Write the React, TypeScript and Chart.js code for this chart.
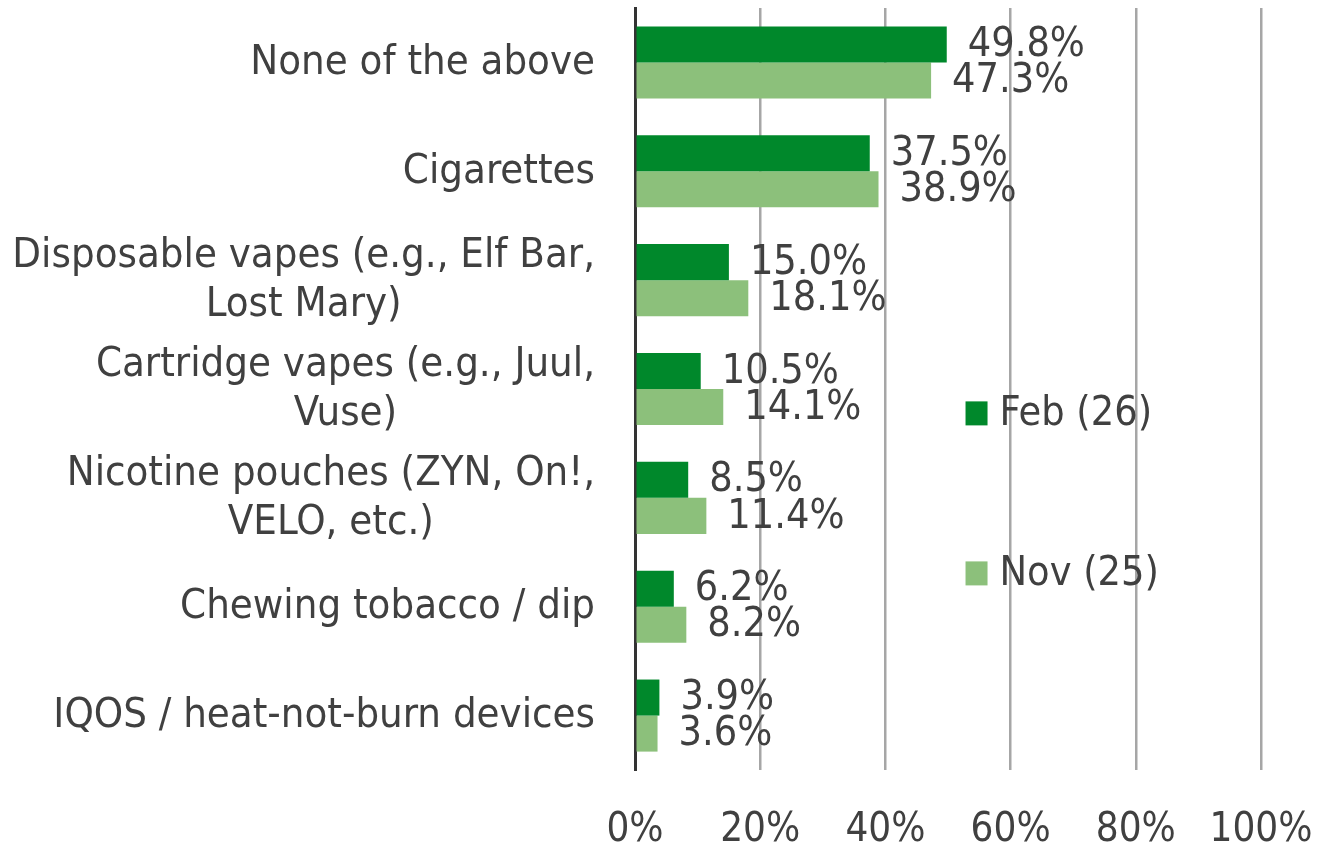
import React, { useEffect, useRef } from "react";
import { Chart, registerables } from "chart.js";

Chart.register(...registerables);

const categories: string[][] = [
  ["None of the above"],
  ["Cigarettes"],
  ["Disposable vapes (e.g., Elf Bar,", "Lost Mary)"],
  ["Cartridge vapes (e.g., Juul,", "Vuse)"],
  ["Nicotine pouches (ZYN, On!,", "VELO, etc.)"],
  ["Chewing tobacco / dip"],
  ["IQOS / heat-not-burn devices"],
];
const febValues = [49.8, 37.5, 15.0, 10.5, 8.5, 6.2, 3.9];
const novValues = [47.3, 38.9, 18.1, 14.1, 11.4, 8.2, 3.6];
const seriesNames = ["Feb (26)", "Nov (25)"];
const xTickValues = [0, 20, 40, 60, 80, 100];

const FONT = "'DejaVu Sans Condensed', 'DejaVu Sans', sans-serif";
const TEXT = "#404040";
const DARK = "#00882B";
const LIGHT = "#8CC07B";

const valueLabels = {
  id: "valueLabels",
  afterDatasetsDraw(chart: any) {
    const ctx = chart.ctx;
    ctx.save();
    ctx.font = `41px ${FONT}`;
    ctx.fillStyle = TEXT;
    ctx.textAlign = "left";
    ctx.textBaseline = "middle";
    chart.data.datasets.forEach((ds: any, di: number) => {
      const meta = chart.getDatasetMeta(di);
      meta.data.forEach((bar: any, i: number) => {
        ctx.fillText(ds.data[i].toFixed(1) + "%", bar.x + 21, bar.y + 1);
      });
    });
    ctx.restore();
  },
};

const categoryLabels = {
  id: "categoryLabels",
  afterDraw(chart: any) {
    const ctx = chart.ctx;
    const y = chart.scales.y;
    ctx.save();
    ctx.font = `41.5px ${FONT}`;
    ctx.fillStyle = TEXT;
    ctx.textAlign = "center";
    ctx.textBaseline = "middle";
    const right = chart.chartArea.left - 40;
    const lh = 49;
    categories.forEach((lines, i) => {
      const cy = y.getPixelForValue(i) + 1;
      const widest = Math.max(...lines.map((l) => ctx.measureText(l).width));
      const cx = right - widest / 2;
      const y0 = cy - ((lines.length - 1) * lh) / 2;
      lines.forEach((l, k) => ctx.fillText(l, cx, y0 + k * lh));
    });
    ctx.restore();
  },
};

const sideLegend = {
  id: "sideLegend",
  afterDraw(chart: any) {
    const ctx = chart.ctx;
    const a = chart.chartArea;
    ctx.save();
    ctx.font = `41px ${FONT}`;
    ctx.textAlign = "left";
    ctx.textBaseline = "middle";
    const x = a.left + (a.right - a.left) * 0.528;
    const ys = [a.top + (a.bottom - a.top) * 0.532, a.top + (a.bottom - a.top) * 0.742];
    const colors = [DARK, LIGHT];
    seriesNames.forEach((name, i) => {
      ctx.fillStyle = colors[i];
      ctx.fillRect(x, ys[i] - 12, 22, 24);
      ctx.fillStyle = TEXT;
      ctx.fillText(name, x + 34, ys[i] + 1);
    });
    ctx.restore();
  },
};

export default function App() {
  const ref = useRef<HTMLCanvasElement | null>(null);
  useEffect(() => {
    if (!ref.current) return;
    Chart.defaults.font.family = FONT;
    const chart = new Chart(ref.current, {
      type: "bar",
      data: {
        labels: categories,
        datasets: [
          { label: seriesNames[0], data: febValues, backgroundColor: DARK },
          { label: seriesNames[1], data: novValues, backgroundColor: LIGHT },
        ],
      },
      options: {
        indexAxis: "y",
        animation: false,
        responsive: true,
        maintainAspectRatio: false,
        datasets: { bar: { barPercentage: 1, categoryPercentage: 0.662 } },
        layout: { padding: { top: 8, right: 59, left: 0, bottom: 0 } },
        plugins: { legend: { display: false }, tooltip: { enabled: false } },
        scales: {
          x: {
            min: 0,
            max: 100,
            afterBuildTicks: (s: any) => {
              s.ticks = xTickValues.map((v) => ({ value: v }));
            },
            afterFit: (s: any) => {
              s.height = 77;
              s.paddingLeft = 0;
              s.paddingRight = 0;
            },
            ticks: {
              callback: (v: any) => v + "%",
              font: { size: 40, family: FONT },
              color: TEXT,
              padding: 37,
              maxRotation: 0,
            },
            grid: {
              drawTicks: false,
              color: (c: any) => (c.tick && c.tick.value === 0 ? "#333333" : "#A6A6A6"),
              lineWidth: (c: any) => (c.tick && c.tick.value === 0 ? 3 : 2.5),
            },
            border: { display: false },
          },
          y: {
            afterFit: (s: any) => {
              s.width = 635;
              s.paddingTop = 0;
              s.paddingBottom = 0;
            },
            ticks: { display: false },
            grid: { display: false, drawTicks: false },
            border: { display: true, color: "#333333", width: 3 },
          },
        },
      },
      plugins: [valueLabels, categoryLabels, sideLegend],
    });
    return () => chart.destroy();
  }, []);
  return (
    <div style={{ position: "fixed", left: 0, top: 0, width: 1320, height: 847, background: "#fff" }}>
      <canvas ref={ref} />
    </div>
  );
}
